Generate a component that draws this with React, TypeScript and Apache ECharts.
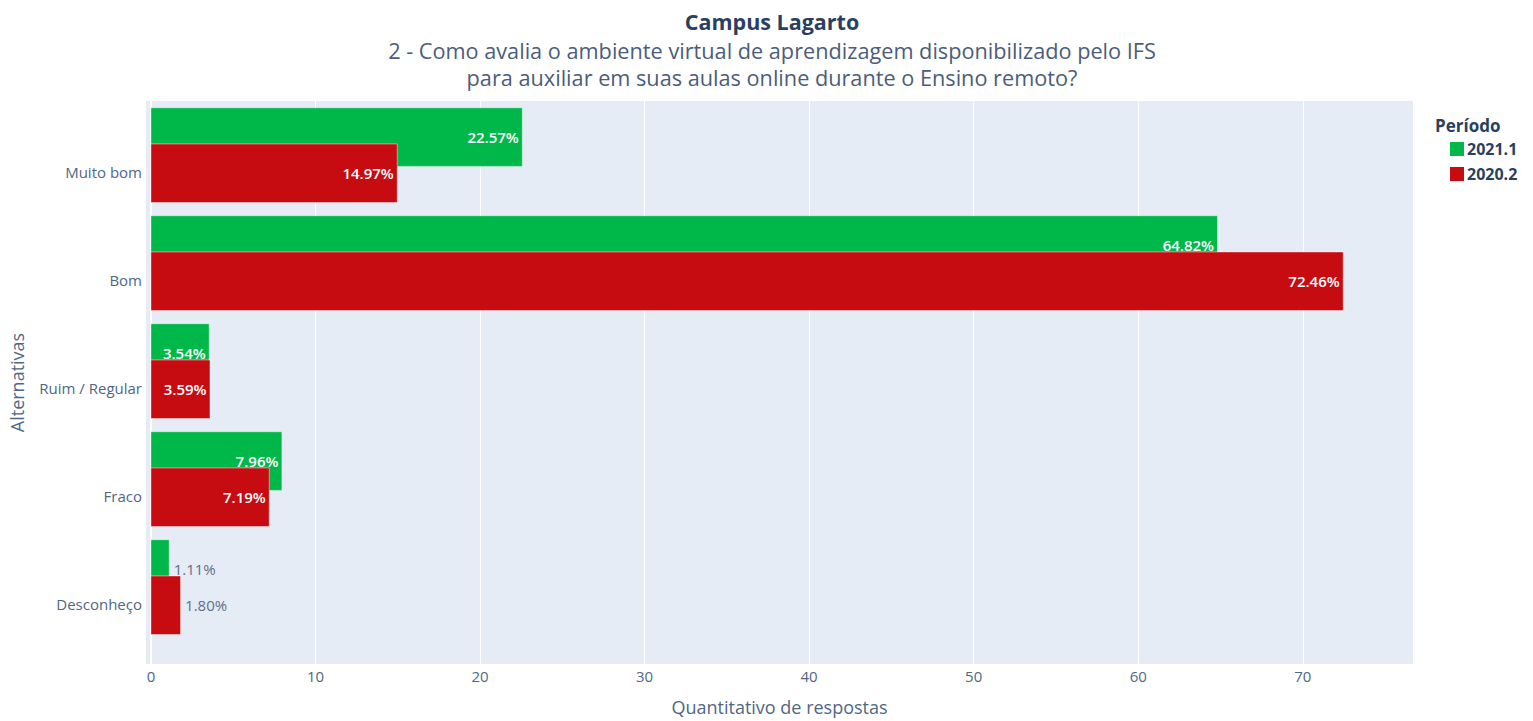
import React, { useEffect, useRef } from "react";
import * as echarts from "echarts";

const categories = ["Muito bom", "Bom", "Ruim / Regular", "Fraco", "Desconheço"];
const seriesNames = ["2021.1", "2020.2"];
const values2021 = [22.57, 64.82, 3.54, 7.96, 1.11];
const values2020 = [14.97, 72.46, 3.59, 7.19, 1.8];
const xTicks = [0, 10, 20, 30, 40, 50, 60, 70];
const catIndex = [0, 1, 2, 3, 4];

const FONT = "'Open Sans', 'Noto Sans', sans-serif";
const GREEN = "#00b849";
const RED = "#c70c11";

function makeRender(offset: number, width: number) {
  return (params: any, api: any) => {
    const v = api.value(0);
    const idx = api.value(1);
    const p0 = api.coord([0, idx + offset - width / 2]);
    const p1 = api.coord([v, idx + offset + width / 2]);
    const x = Math.min(p0[0], p1[0]);
    const y = Math.min(p0[1], p1[1]);
    const w = Math.abs(p1[0] - p0[0]);
    const h = Math.abs(p1[1] - p0[1]);
    const inside = w > 52;
    return {
      type: "rect",
      shape: { x, y, width: w, height: h },
      style: {
        fill: api.visual("color"),
        stroke: "rgba(255,255,255,0.45)",
        lineWidth: 1,
      },
      textContent: {
        style: {
          text: v.toFixed(2) + "%",
          fill: inside ? "#ffffff" : "#5f6f8c",
          font: `${inside ? "600 " : ""}15px ${FONT}`,
        },
      },
      textConfig: {
        position: inside ? "insideRight" : "right",
        distance: 4,
      },
    };
  };
}

export default function App() {
  const ref = useRef<HTMLDivElement>(null);
  useEffect(() => {
    if (!ref.current) return;
    const chart = echarts.init(ref.current, undefined, { renderer: "svg" });
    const option: any = {
      animation: false,
      textStyle: { fontFamily: FONT },
      grid: { left: 145, top: 101, right: 120, bottom: 54, backgroundColor: "#e5ecf6", show: true, borderWidth: 0 },
      graphic: [
        {
          type: "text",
          x: 772,
          y: 21,
          style: {
            text: "Campus Lagarto",
            textAlign: "center",
            textVerticalAlign: "middle",
            font: `bold 21.5px ${FONT}`,
            fill: "#2a3f5f",
          },
        },
        {
          type: "text",
          x: 772,
          y: 50,
          style: {
            text: "2 - Como avalia o ambiente virtual de aprendizagem disponibilizado pelo IFS",
            textAlign: "center",
            textVerticalAlign: "middle",
            font: `21.7px ${FONT}`,
            fill: "#4b5d7b",
          },
        },
        {
          type: "text",
          x: 772,
          y: 77,
          style: {
            text: "para auxiliar em suas aulas online durante o Ensino remoto?",
            textAlign: "center",
            textVerticalAlign: "middle",
            font: `21.7px ${FONT}`,
            fill: "#4b5d7b",
          },
        },
        {
          type: "text",
          x: 1435,
          y: 125,
          style: {
            text: "Período",
            textAlign: "left",
            textVerticalAlign: "middle",
            font: `bold 17px ${FONT}`,
            fill: "#2a3f5f",
          },
        },
      ],
      legend: {
        orient: "vertical",
        left: 1445,
        top: 136,
        icon: "rect",
        itemWidth: 14,
        itemHeight: 14,
        itemGap: 9,
        data: seriesNames,
        textStyle: { fontFamily: FONT, fontSize: 16, fontWeight: "bold", color: "#2a3f5f", padding: [0, 0, 0, -2] },
      },
      xAxis: {
        type: "value",
        min: -0.3,
        max: 76.7,
        name: "Quantitativo de respostas",
        nameLocation: "middle",
        nameGap: 34,
        nameTextStyle: { fontSize: 18, color: "#506784", fontFamily: FONT },
        axisLine: { show: false },
        axisTick: { show: false, customValues: xTicks },
        axisLabel: { customValues: xTicks, fontSize: 15, color: "#506784", margin: 4, fontFamily: FONT },
        splitLine: { show: true, lineStyle: { color: "#ffffff", width: 1 } },
      },
      yAxis: {
        type: "value",
        inverse: true,
        min: -0.654,
        max: 4.559,
        name: "Alternativas",
        nameLocation: "middle",
        nameGap: 120,
        nameRotate: 90,
        nameTextStyle: { fontSize: 18, color: "#506784", fontFamily: FONT },
        axisLine: { show: true, onZero: true, lineStyle: { color: "#ffffff", width: 2 } },
        axisTick: { show: false, customValues: catIndex },
        axisLabel: {
          customValues: catIndex,
          formatter: (v: number) => categories[Math.round(v)] ?? "",
          fontSize: 15,
          color: "#506784",
          margin: 4,
          fontFamily: FONT,
        },
        splitLine: { show: false },
      },
      series: [
        {
          name: seriesNames[0],
          type: "custom",
          z: 2,
          itemStyle: { color: GREEN },
          encode: { x: 0, y: 1 },
          data: values2021.map((v, i) => [v, i]),
          renderItem: makeRender(-0.32, 0.543),
        },
        {
          name: seriesNames[1],
          type: "custom",
          z: 3,
          itemStyle: { color: RED },
          encode: { x: 0, y: 1 },
          data: values2020.map((v, i) => [v, i]),
          renderItem: makeRender(0.015, 0.543),
        },
      ],
    };
    chart.setOption(option);
    return () => chart.dispose();
  }, []);
  return <div ref={ref} style={{ position: "absolute", left: 0, top: 0, width: 1533, height: 721 }} />;
}
